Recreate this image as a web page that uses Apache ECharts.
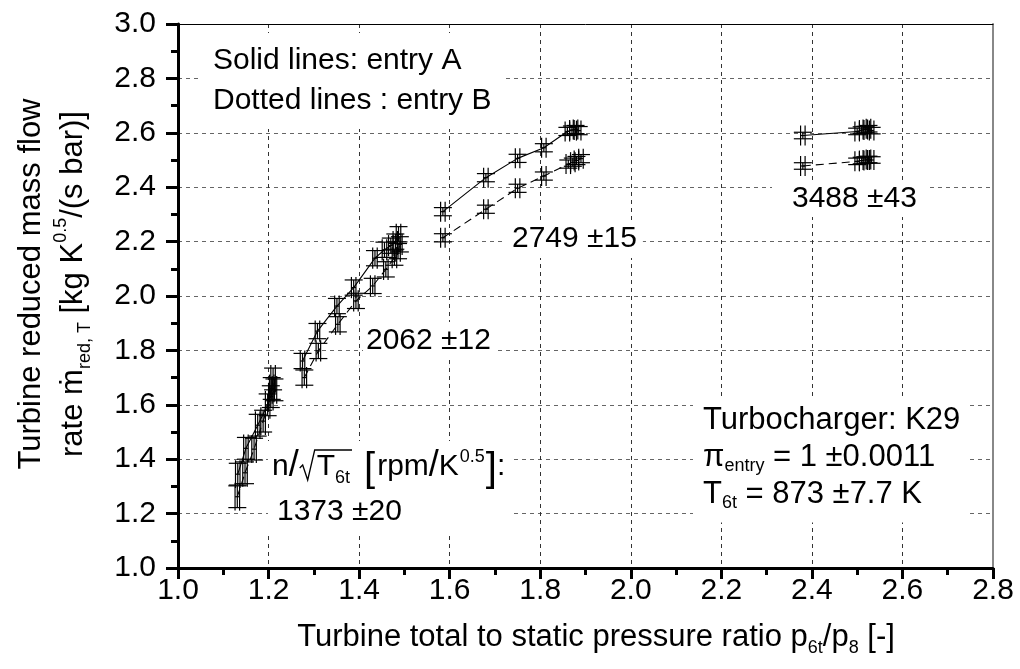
<!DOCTYPE html>
<html><head><meta charset="utf-8">
<script src="https://cdn.jsdelivr.net/npm/echarts@6/dist/echarts.min.js"></script>
<style>html,body{margin:0;padding:0;background:#fff}#c{width:1020px;height:669px}</style>
</head><body><div id="c"></div>
<script>
// ---- data ----
const xTickLabels = ['1.0','1.2','1.4','1.6','1.8','2.0','2.2','2.4','2.6','2.8'];
const yTickLabels = ['1.0','1.2','1.4','1.6','1.8','2.0','2.2','2.4','2.6','2.8','3.0'];

const n1373A = [[1.132,1.345],[1.150,1.440],[1.176,1.525],[1.198,1.600],[1.207,1.660],[1.210,1.695]];
const n1373B = [[1.131,1.262],[1.148,1.350],[1.168,1.437],[1.188,1.540],[1.205,1.630],[1.213,1.655]];
const n2062A = [[1.275,1.761],[1.308,1.871],[1.351,1.963],[1.388,2.031],[1.435,2.139],[1.456,2.170],[1.470,2.185],[1.480,2.200],[1.487,2.227]];
const n2062B = [[1.279,1.700],[1.310,1.798],[1.353,1.896],[1.393,1.982],[1.430,2.037],[1.459,2.098],[1.478,2.141],[1.486,2.165],[1.490,2.190]];
const n2749A = [[1.585,2.310],[1.680,2.435],[1.750,2.506],[1.808,2.545],[1.860,2.605],[1.870,2.610],[1.878,2.612],[1.885,2.608]];
const n2749B = [[1.585,2.214],[1.680,2.319],[1.750,2.396],[1.808,2.441],[1.862,2.485],[1.872,2.492],[1.880,2.498],[1.890,2.505]];
const n3488A = [[2.380,2.590],[2.500,2.605],[2.510,2.610],[2.518,2.612],[2.525,2.615],[2.532,2.608]];
const n3488B = [[2.380,2.478],[2.500,2.495],[2.510,2.498],[2.518,2.500],[2.525,2.502],[2.532,2.500]];

const errX = 0.005;
const errY1373 = 0.04, errY2062 = 0.028, errY2749 = 0.015, errY3488 = 0.012;

// ---- helpers ----
const FONT = '"Liberation Sans", Arial, Helvetica, sans-serif';
const mctx = document.createElement('canvas').getContext('2d');
function tw(t, size) { mctx.font = size + 'px ' + FONT; return mctx.measureText(t).width; }

function withErr(arr, ey) { return arr.map(p => [p[0], p[1], errX, ey]); }
const errData = [].concat(
  withErr(n1373A, errY1373), withErr(n1373B, errY1373),
  withErr(n2062A, errY2062), withErr(n2062B, errY2062),
  withErr(n2749A, errY2749), withErr(n2749B, errY2749),
  withErr(n3488A, errY3488), withErr(n3488B, errY3488)
);

function renderErr(params, api) {
  const x = api.value(0), y = api.value(1), ex = api.value(2), ey = api.value(3);
  const c = api.coord([x, y]);
  const top = api.coord([x, y + ey])[1], bot = api.coord([x, y - ey])[1];
  const left = api.coord([x - ex, y])[0], right = api.coord([x + ex, y])[0];
  const cw = 9, ch = Math.max(10, (bot - top) / 2 + 3);
  const st = {stroke: '#000', lineWidth: 1.2};
  const L = (x1, y1, x2, y2) => ({type: 'line', shape: {x1, y1, x2, y2}, style: st});
  return {type: 'group', children: [
    L(c[0], top, c[0], bot),
    L(c[0] - cw, top, c[0] + cw, top),
    L(c[0] - cw, bot, c[0] + cw, bot),
    L(left, c[1], right, c[1]),
    L(left, c[1] - ch, left, c[1] + ch),
    L(right, c[1] - ch, right, c[1] + ch)
  ]};
}

function lineSeries(data, dashed) {
  return {type: 'line', data: data, symbol: 'none', showSymbol: false, z: 2, animation: false,
    lineStyle: {color: '#000', width: 1.1, type: dashed ? [8, 5] : 'solid'}};
}

// ---- graphic annotations ----
const g = [];
function label(text, x, y, pad, extra) {
  g.push(Object.assign({type: 'text', x: x, y: y, z: 60, style: Object.assign({
    text: text, fontSize: 30, fontFamily: FONT, fill: '#000', align: 'left', verticalAlign: 'middle',
    backgroundColor: '#fff', padding: pad}, extra || {})}));
}
label('Solid lines: entry A\nDotted lines : entry B', 200, 81, [8, 12, 8, 13], {lineHeight: 40});
label('2062 ±12', 363, 341, [4, 6, 4, 3]);
label('2749 ±15', 506, 239, [4, 6, 4, 6]);
label('3488 ±43', 772, 199, [3, 12, 3, 20]);
label('Turbocharger: K29\nπ{s|entry} = 1 ±0.0011\nT{s|6t} = 873 ±7.7 K', 693, 460.5, [3, 8, 10, 10],
  {lineHeight: 37, fontSize: 31, rich: {s: {fontSize: 18, fontFamily: FONT, verticalAlign: 'bottom'}}});

// expression n/sqrt(T6t) [rpm/K^0.5]:
(function () {
  let cx = 272; const b = 477, F = 30;
  const parts = [];
  function put(t, size, dy, after) {
    parts.push({type: 'text', x: cx, y: b + dy - 0.3465 * size, z: 61,
      style: {text: t, fontSize: size, fontFamily: FONT, fill: '#000', align: 'left', verticalAlign: 'middle'}});
    cx += tw(t, size) + (after || 0);
  }
  put('n', F, 0);
  put('/', F + 6, 2, 1);
  const rx = cx;
  cx += 17;
  put('T', F, 0);
  put('6t', 18, 7, 2);
  const rEnd = cx;
  parts.push({type: 'polyline', z: 61, shape: {points: [[rx, b - 9], [rx + 3, b - 12], [rx + 8, b + 3], [rx + 15, b - 27], [rEnd, b - 27]]},
    style: {stroke: '#000', lineWidth: 1.3, fill: null}});
  cx += 12;
  put('[', 40, 7, 2);
  put('rpm', F, 0);
  put('/', F + 6, 2);
  put('K', F, 0, 1);
  put('0.5', 18, -14, 1);
  put(']', 40, 7);
  put(':', F, 0);
  g.push({type: 'rect', z: 55, shape: {x: 268, y: 441, width: cx + 6 - 268, height: 92}, style: {fill: '#fff'}});
  parts.forEach(p => g.push(p));
  g.push({type: 'text', x: 277, y: 512, z: 61, style: {text: '1373 ±20', fontSize: 30, fontFamily: FONT, fill: '#000', align: 'left', verticalAlign: 'middle'}});
})();

// axis titles
g.push({type: 'text', x: 52, y: 284, rotation: Math.PI / 2, z: 60, style: {
  text: 'Turbine reduced mass flow\nrate ṁ{s|red, T} [kg K{p|0.5}/(s bar)]',
  fontSize: 31, fontFamily: FONT, fill: '#000', align: 'center', verticalAlign: 'middle', lineHeight: 42,
  rich: {s: {fontSize: 18, fontFamily: FONT, verticalAlign: 'bottom'}, p: {fontSize: 18, fontFamily: FONT, verticalAlign: 'top'}}}});
g.push({type: 'text', x: 596, y: 637, z: 60, style: {
  text: 'Turbine total to static pressure ratio p{s|6t}/p{s|8} [-]',
  fontSize: 31, fontFamily: FONT, fill: '#000', align: 'center', verticalAlign: 'middle', lineHeight: 40,
  rich: {s: {fontSize: 18, fontFamily: FONT, verticalAlign: 'bottom'}}}});

const chart = echarts.init(document.getElementById('c'), null, {renderer: 'canvas'});
chart.setOption({
  animation: false,
  backgroundColor: '#fff',
  grid: {left: 178, right: 27, top: 24, bottom: 101, containLabel: false},
  xAxis: [{
    type: 'value', min: 1, max: 2.8, interval: 0.2, position: 'bottom',
    axisLine: {onZero: false, lineStyle: {color: '#000', width: 3}},
    axisTick: {inside: false, length: 11, lineStyle: {color: '#000', width: 3}},
    minorTick: {show: true, splitNumber: 2, length: 7, lineStyle: {color: '#000', width: 3}},
    axisLabel: {fontSize: 30, fontFamily: FONT, color: '#000', margin: 8,
      formatter: v => xTickLabels[Math.round((v - 1) / 0.2)]},
    splitLine: {show: true, lineStyle: {color: '#333', width: 1, type: [4, 4]}}
  }, {
    type: 'value', min: 1, max: 2.8, position: 'top',
    axisLine: {onZero: false, lineStyle: {color: '#000', width: 1}},
    axisTick: {show: false}, axisLabel: {show: false}, splitLine: {show: false}
  }],
  yAxis: [{
    type: 'value', min: 1, max: 3, interval: 0.2, position: 'left',
    axisLine: {onZero: false, lineStyle: {color: '#000', width: 3}},
    axisTick: {inside: false, length: 12, lineStyle: {color: '#000', width: 3}},
    minorTick: {show: true, splitNumber: 2, length: 7, lineStyle: {color: '#000', width: 3}},
    axisLabel: {fontSize: 30, fontFamily: FONT, color: '#000', margin: 22,
      formatter: v => yTickLabels[Math.round((v - 1) / 0.2)]},
    splitLine: {show: true, lineStyle: {color: '#666', width: 1, type: [4, 4]}}
  }, {
    type: 'value', min: 1, max: 3, position: 'right',
    axisLine: {onZero: false, lineStyle: {color: '#888', width: 2}},
    axisTick: {show: false}, axisLabel: {show: false}, splitLine: {show: false}
  }],
  series: [
    lineSeries(n1373A, false), lineSeries(n1373B, true),
    lineSeries(n2062A, false), lineSeries(n2062B, true),
    lineSeries(n2749A, false), lineSeries(n2749B, true),
    lineSeries(n3488A, false), lineSeries(n3488B, true),
    {type: 'custom', renderItem: renderErr, data: errData, encode: {x: 0, y: 1}, z: 3, animation: false}
  ],
  graphic: g
});
</script>
</body></html>
